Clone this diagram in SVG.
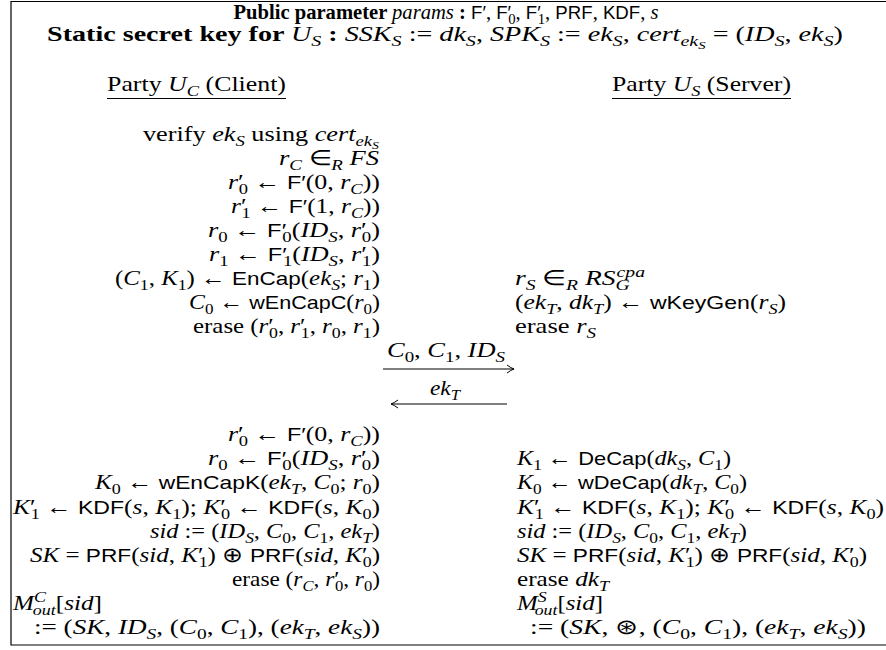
<svg xmlns="http://www.w3.org/2000/svg" width="886" height="650" viewBox="0 0 886 650">
<style>
.t{font-family:"Liberation Serif",serif;font-size:21px;fill:#000}
.e{text-anchor:end}
.m{text-anchor:middle}
.i{font-style:italic}
.s{font-family:"Liberation Sans",sans-serif;font-size:19px;font-style:normal}
.b{font-weight:bold}
.d{font-size:15px;baseline-shift:-5px}
.u{font-size:15px;baseline-shift:8px}
.dd{font-size:11px;baseline-shift:-3px}
.ln{stroke:#000;stroke-width:1.2;fill:none}
</style>
<defs>
<marker id="ah" viewBox="-10 -6 12 12" refX="0" refY="0" markerWidth="12" markerHeight="12" markerUnits="userSpaceOnUse" orient="auto-start-reverse"><path d="M-7,-4 Q-3,-1 0,0 Q-3,1 -7,4" fill="none" stroke="#000" stroke-width="1"/></marker>
</defs>
<rect width="886" height="650" fill="#fff"/>
<path class="ln" d="M886,1.5 H11 V645 H886"/>
<g id="header">
<text class="t m" x="446" y="19" textLength="425" lengthAdjust="spacingAndGlyphs"><tspan class="b">Public parameter </tspan><tspan class="i">params</tspan><tspan class="b"> : </tspan><tspan class="s">F′</tspan>, <tspan class="s">F′</tspan><tspan class="d" dx="-3">0</tspan>, <tspan class="s">F′</tspan><tspan class="d" dx="-3">1</tspan>, <tspan class="s">PRF</tspan>, <tspan class="s">KDF</tspan>, <tspan class="i">s</tspan></text>
<text class="t m" x="445" y="41" textLength="796" lengthAdjust="spacingAndGlyphs"><tspan class="b">Static secret key for </tspan><tspan class="i">U</tspan><tspan class="d i">S</tspan><tspan class="b"> : </tspan><tspan class="i">SSK</tspan><tspan class="d i">S</tspan> := <tspan class="i">dk</tspan><tspan class="d i">S</tspan>, <tspan class="i">SPK</tspan><tspan class="d i">S</tspan> := <tspan class="i">ek</tspan><tspan class="d i">S</tspan>, <tspan class="i">cert</tspan><tspan class="d i">ek<tspan class="dd">S</tspan></tspan> = (<tspan class="i">ID</tspan><tspan class="d i">S</tspan>, <tspan class="i">ek</tspan><tspan class="d i">S</tspan>)</text>
</g>
<g id="client">
<text class="t" x="107" y="91" textLength="179" lengthAdjust="spacingAndGlyphs">Party <tspan class="i">U</tspan><tspan class="d i">C</tspan> (Client)</text>
<line class="ln" x1="107" y1="98.5" x2="286" y2="98.5"/>
<text class="t e" x="379" y="141" textLength="236" lengthAdjust="spacingAndGlyphs">verify <tspan class="i">ek</tspan><tspan class="d i">S</tspan> using <tspan class="i">cert</tspan><tspan class="d i">ek<tspan class="dd">S</tspan></tspan></text>
<text class="t e" x="379" y="165" textLength="100" lengthAdjust="spacingAndGlyphs"><tspan class="i">r</tspan><tspan class="d i">C</tspan> ∈<tspan class="d i">R</tspan> <tspan class="i">FS</tspan></text>
<text class="t e" x="380" y="189" textLength="152" lengthAdjust="spacingAndGlyphs"><tspan class="i">r</tspan>′<tspan class="d" dx="-4">0</tspan> ← <tspan class="s">F′</tspan>(0, <tspan class="i">r</tspan><tspan class="d i">C</tspan>))</text>
<text class="t e" x="380" y="213" textLength="149" lengthAdjust="spacingAndGlyphs"><tspan class="i">r</tspan>′<tspan class="d" dx="-4">1</tspan> ← <tspan class="s">F′</tspan>(1, <tspan class="i">r</tspan><tspan class="d i">C</tspan>))</text>
<text class="t e" x="380" y="237" textLength="172" lengthAdjust="spacingAndGlyphs"><tspan class="i">r</tspan><tspan class="d">0</tspan> ← <tspan class="s">F′</tspan><tspan class="d" dx="-3">0</tspan>(<tspan class="i">ID</tspan><tspan class="d i">S</tspan>, <tspan class="i">r</tspan>′<tspan class="d" dx="-4">0</tspan>)</text>
<text class="t e" x="380" y="261" textLength="171" lengthAdjust="spacingAndGlyphs"><tspan class="i">r</tspan><tspan class="d">1</tspan> ← <tspan class="s">F′</tspan><tspan class="d" dx="-3">1</tspan>(<tspan class="i">ID</tspan><tspan class="d i">S</tspan>, <tspan class="i">r</tspan>′<tspan class="d" dx="-4">1</tspan>)</text>
<text class="t e" x="380" y="285" textLength="265" lengthAdjust="spacingAndGlyphs">(<tspan class="i">C</tspan><tspan class="d">1</tspan>, <tspan class="i">K</tspan><tspan class="d">1</tspan>) ← <tspan class="s">EnCap</tspan>(<tspan class="i">ek</tspan><tspan class="d i">S</tspan>; <tspan class="i">r</tspan><tspan class="d">1</tspan>)</text>
<text class="t e" x="380" y="309" textLength="191" lengthAdjust="spacingAndGlyphs"><tspan class="i">C</tspan><tspan class="d">0</tspan> ← <tspan class="s">wEnCapC</tspan>(<tspan class="i">r</tspan><tspan class="d">0</tspan>)</text>
<text class="t e" x="380" y="333" textLength="187" lengthAdjust="spacingAndGlyphs">erase (<tspan class="i">r</tspan>′<tspan class="d" dx="-4">0</tspan>, <tspan class="i">r</tspan>′<tspan class="d" dx="-4">1</tspan>, <tspan class="i">r</tspan><tspan class="d">0</tspan>, <tspan class="i">r</tspan><tspan class="d">1</tspan>)</text>
<text class="t e" x="380" y="441" textLength="152" lengthAdjust="spacingAndGlyphs"><tspan class="i">r</tspan>′<tspan class="d" dx="-4">0</tspan> ← <tspan class="s">F′</tspan>(0, <tspan class="i">r</tspan><tspan class="d i">C</tspan>))</text>
<text class="t e" x="380" y="465" textLength="172" lengthAdjust="spacingAndGlyphs"><tspan class="i">r</tspan><tspan class="d">0</tspan> ← <tspan class="s">F′</tspan><tspan class="d" dx="-3">0</tspan>(<tspan class="i">ID</tspan><tspan class="d i">S</tspan>, <tspan class="i">r</tspan>′<tspan class="d" dx="-4">0</tspan>)</text>
<text class="t e" x="380" y="489" textLength="285" lengthAdjust="spacingAndGlyphs"><tspan class="i">K</tspan><tspan class="d">0</tspan> ← <tspan class="s">wEnCapK</tspan>(<tspan class="i">ek</tspan><tspan class="d i">T</tspan>, <tspan class="i">C</tspan><tspan class="d">0</tspan>; <tspan class="i">r</tspan><tspan class="d">0</tspan>)</text>
<text class="t e" x="380" y="514" textLength="367" lengthAdjust="spacingAndGlyphs"><tspan class="i">K</tspan>′<tspan class="d" dx="-4">1</tspan> ← <tspan class="s">KDF</tspan>(<tspan class="i">s</tspan>, <tspan class="i">K</tspan><tspan class="d">1</tspan>); <tspan class="i">K</tspan>′<tspan class="d" dx="-4">0</tspan> ← <tspan class="s">KDF</tspan>(<tspan class="i">s</tspan>, <tspan class="i">K</tspan><tspan class="d">0</tspan>)</text>
<text class="t e" x="380" y="538" textLength="230" lengthAdjust="spacingAndGlyphs"><tspan class="i">sid</tspan> := (<tspan class="i">ID</tspan><tspan class="d i">S</tspan>, <tspan class="i">C</tspan><tspan class="d">0</tspan>, <tspan class="i">C</tspan><tspan class="d">1</tspan>, <tspan class="i">ek</tspan><tspan class="d i">T</tspan>)</text>
<text class="t e" x="380" y="562" textLength="350" lengthAdjust="spacingAndGlyphs"><tspan class="i">SK</tspan> = <tspan class="s">PRF</tspan>(<tspan class="i">sid</tspan>, <tspan class="i">K</tspan>′<tspan class="d" dx="-4">1</tspan>) ⊕ <tspan class="s">PRF</tspan>(<tspan class="i">sid</tspan>, <tspan class="i">K</tspan>′<tspan class="d" dx="-4">0</tspan>)</text>
<text class="t e" x="380" y="586" textLength="148" lengthAdjust="spacingAndGlyphs">erase (<tspan class="i">r</tspan><tspan class="d i">C</tspan>, <tspan class="i">r</tspan>′<tspan class="d" dx="-4">0</tspan>, <tspan class="i">r</tspan><tspan class="d">0</tspan>)</text>
<text class="t" x="13" y="610" textLength="89" lengthAdjust="spacingAndGlyphs"><tspan class="i">M</tspan><tspan class="u i">C</tspan><tspan class="d i" dx="-11">out</tspan>[<tspan class="i">sid</tspan>]</text>
<text class="t e" x="380" y="634" textLength="346" lengthAdjust="spacingAndGlyphs">:= (<tspan class="i">SK</tspan>, <tspan class="i">ID</tspan><tspan class="d i">S</tspan>, (<tspan class="i">C</tspan><tspan class="d">0</tspan>, <tspan class="i">C</tspan><tspan class="d">1</tspan>), (<tspan class="i">ek</tspan><tspan class="d i">T</tspan>, <tspan class="i">ek</tspan><tspan class="d i">S</tspan>))</text>
</g>
<g id="server">
<text class="t" x="612" y="91" textLength="179" lengthAdjust="spacingAndGlyphs">Party <tspan class="i">U</tspan><tspan class="d i">S</tspan> (Server)</text>
<line class="ln" x1="612" y1="98.5" x2="791" y2="98.5"/>
<text class="t" x="515" y="285" textLength="130" lengthAdjust="spacingAndGlyphs"><tspan class="i">r</tspan><tspan class="d i">S</tspan> ∈<tspan class="d i">R</tspan> <tspan class="i">RS</tspan><tspan class="d i">G</tspan><tspan class="u i" dx="-10">cpa</tspan></text>
<text class="t" x="515" y="309" textLength="271" lengthAdjust="spacingAndGlyphs">(<tspan class="i">ek</tspan><tspan class="d i">T</tspan>, <tspan class="i">dk</tspan><tspan class="d i">T</tspan>) ← <tspan class="s">wKeyGen</tspan>(<tspan class="i">r</tspan><tspan class="d i">S</tspan>)</text>
<text class="t" x="515" y="333" textLength="81" lengthAdjust="spacingAndGlyphs">erase <tspan class="i">r</tspan><tspan class="d i">S</tspan></text>
<text class="t" x="517" y="465" textLength="214" lengthAdjust="spacingAndGlyphs"><tspan class="i">K</tspan><tspan class="d">1</tspan> ← <tspan class="s">DeCap</tspan>(<tspan class="i">dk</tspan><tspan class="d i">S</tspan>, <tspan class="i">C</tspan><tspan class="d">1</tspan>)</text>
<text class="t" x="517" y="489" textLength="230" lengthAdjust="spacingAndGlyphs"><tspan class="i">K</tspan><tspan class="d">0</tspan> ← <tspan class="s">wDeCap</tspan>(<tspan class="i">dk</tspan><tspan class="d i">T</tspan>, <tspan class="i">C</tspan><tspan class="d">0</tspan>)</text>
<text class="t" x="517" y="514" textLength="367" lengthAdjust="spacingAndGlyphs"><tspan class="i">K</tspan>′<tspan class="d" dx="-4">1</tspan> ← <tspan class="s">KDF</tspan>(<tspan class="i">s</tspan>, <tspan class="i">K</tspan><tspan class="d">1</tspan>); <tspan class="i">K</tspan>′<tspan class="d" dx="-4">0</tspan> ← <tspan class="s">KDF</tspan>(<tspan class="i">s</tspan>, <tspan class="i">K</tspan><tspan class="d">0</tspan>)</text>
<text class="t" x="517" y="538" textLength="230" lengthAdjust="spacingAndGlyphs"><tspan class="i">sid</tspan> := (<tspan class="i">ID</tspan><tspan class="d i">S</tspan>, <tspan class="i">C</tspan><tspan class="d">0</tspan>, <tspan class="i">C</tspan><tspan class="d">1</tspan>, <tspan class="i">ek</tspan><tspan class="d i">T</tspan>)</text>
<text class="t" x="517" y="562" textLength="350" lengthAdjust="spacingAndGlyphs"><tspan class="i">SK</tspan> = <tspan class="s">PRF</tspan>(<tspan class="i">sid</tspan>, <tspan class="i">K</tspan>′<tspan class="d" dx="-4">1</tspan>) ⊕ <tspan class="s">PRF</tspan>(<tspan class="i">sid</tspan>, <tspan class="i">K</tspan>′<tspan class="d" dx="-4">0</tspan>)</text>
<text class="t" x="517" y="586" textLength="92" lengthAdjust="spacingAndGlyphs">erase <tspan class="i">dk</tspan><tspan class="d i">T</tspan></text>
<text class="t" x="517" y="610" textLength="86" lengthAdjust="spacingAndGlyphs"><tspan class="i">M</tspan><tspan class="u i">S</tspan><tspan class="d i" dx="-10">out</tspan>[<tspan class="i">sid</tspan>]</text>
<text class="t" x="530" y="634" textLength="336" lengthAdjust="spacingAndGlyphs">:= (<tspan class="i">SK</tspan>, ⊛, (<tspan class="i">C</tspan><tspan class="d">0</tspan>, <tspan class="i">C</tspan><tspan class="d">1</tspan>), (<tspan class="i">ek</tspan><tspan class="d i">T</tspan>, <tspan class="i">ek</tspan><tspan class="d i">S</tspan>))</text>
</g>
<g id="connectors">
<text class="t m" x="446" y="357" textLength="118" lengthAdjust="spacingAndGlyphs"><tspan class="i">C</tspan><tspan class="d">0</tspan>, <tspan class="i">C</tspan><tspan class="d">1</tspan>, <tspan class="i">ID</tspan><tspan class="d i">S</tspan></text>
<line class="ln" x1="383" y1="369" x2="514" y2="369" marker-end="url(#ah)"/>
<text class="t m" x="445" y="395" textLength="30" lengthAdjust="spacingAndGlyphs"><tspan class="i">ek</tspan><tspan class="d i">T</tspan></text>
<line class="ln" x1="391" y1="404" x2="507" y2="404" marker-start="url(#ah)"/>
</g>
</svg>
